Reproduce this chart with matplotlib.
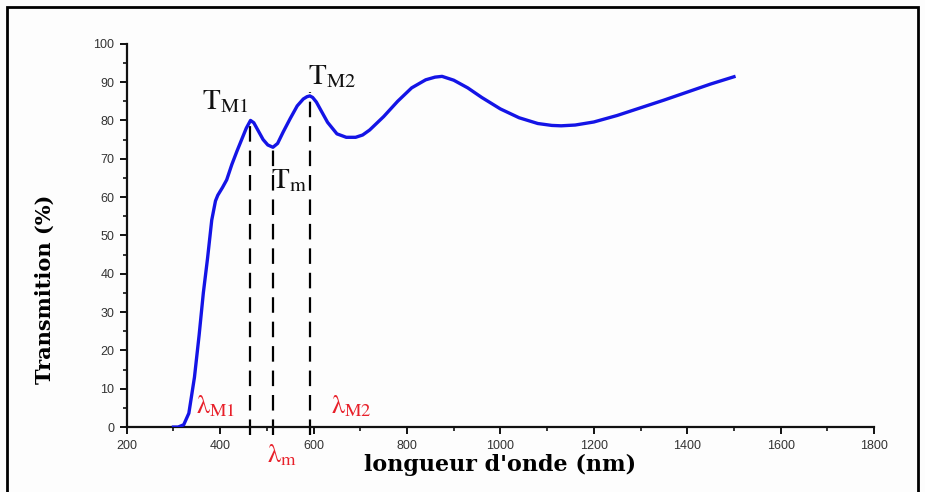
import matplotlib
matplotlib.use("Agg")
import matplotlib.pyplot as plt
from matplotlib.patches import Rectangle
from matplotlib.ticker import MultipleLocator

plt.rcParams['mathtext.fontset'] = 'stix'

# Data
wavelength = [300, 310, 322, 333, 345, 355, 364, 373, 382, 390, 395, 405, 414, 425,
              436, 446, 456, 465, 472, 482, 492, 502, 513, 523, 535, 550, 565, 578,
              586, 592, 598, 606, 615, 630, 650, 670, 690, 705, 720, 750, 780, 810, 840, 860,
              875, 900, 930, 960, 1000, 1040, 1080, 1110, 1130, 1160, 1200, 1250,
              1300, 1350, 1400, 1450, 1500]
transmission = [0, 0, 0.6, 3.6, 13, 24, 35, 44, 54, 59, 60.5, 62.5, 64.5, 68.5,
                72, 75, 78, 80, 79.4, 77.2, 75, 73.6, 73, 74, 77, 80.5, 83.8, 85.6,
                86.2, 86.4, 86.0, 84.8, 82.8, 79.5, 76.5, 75.6, 75.6, 76.2, 77.5, 81, 85, 88.5, 90.6, 91.3,
                91.5, 90.5, 88.5, 86, 83, 80.7, 79.2, 78.7, 78.6, 78.8, 79.6, 81.3,
                83.3, 85.3, 87.4, 89.5, 91.4]

marker_x = [463, 513, 592]
marker_top = [80, 73, 87.5]

t_labels = [r'$\mathrm{T}_{\mathrm{M1}}$', r'$\mathrm{T}_{\mathrm{m}}$', r'$\mathrm{T}_{\mathrm{M2}}$']
t_pos = [(410, 85), (547, 64.5), (639, 91.5)]
lam_labels = [r'$\mathrm{λ}_{\mathrm{M1}}$', r'$\mathrm{λ}_{\mathrm{m}}$', r'$\mathrm{λ}_{\mathrm{M2}}$']
lam_pos = [(391, 5.5), (532, -7.5), (682, 5.5)]

xticks = [200, 400, 600, 800, 1000, 1200, 1400, 1600, 1800]
yticks = [0, 10, 20, 30, 40, 50, 60, 70, 80, 90, 100]

fig = plt.figure(figsize=(9.25, 4.92), dpi=100)
fig.patch.set_facecolor('#fdfdfd')
ax = fig.add_axes([0.137, 0.132, 0.808, 0.779])
ax.set_facecolor('#fdfdfd')

ax.plot(wavelength, transmission, color='#1414e6', lw=2.4, zorder=3)

for x, top in zip(marker_x, marker_top):
    ax.plot([x, x], [-2, top], color='black', lw=1.6, ls=(0, (7, 4)), clip_on=False, zorder=2)

for lab, (x, y) in zip(t_labels, t_pos):
    ax.text(x, y, lab, fontsize=21, color='#111111', ha='center', va='center')
for lab, (x, y) in zip(lam_labels, lam_pos):
    ax.text(x, y, lab, fontsize=19, color='#e8202a', ha='center', va='center', clip_on=False)

ax.set_xlim(200, 1800)
ax.set_ylim(0, 100)
ax.set_xticks(xticks)
ax.set_yticks(yticks)
ax.xaxis.set_minor_locator(MultipleLocator(100))
ax.yaxis.set_minor_locator(MultipleLocator(5))
for s in ['top', 'right']:
    ax.spines[s].set_visible(False)
for s in ['left', 'bottom']:
    ax.spines[s].set_linewidth(1.6)
    ax.spines[s].set_color('#111111')
ax.tick_params(which='major', direction='out', length=5, width=1.4, color='#111111',
               labelsize=9, labelcolor='#333333', pad=4)
ax.tick_params(which='minor', direction='out', length=3, width=1.2, color='#111111')
for lbl in ax.get_xticklabels() + ax.get_yticklabels():
    lbl.set_family('Liberation Sans')

ax.set_xlabel("longueur d'onde (nm)", fontsize=16, fontweight='bold',
              family='DejaVu Serif', va='center')
ax.set_ylabel("Transmition (%)", fontsize=15, fontweight='bold',
              family='DejaVu Serif', va='center')
ax.xaxis.set_label_coords(0.5, -0.099)
ax.yaxis.set_label_coords(-0.11, 0.36)

fig.add_artist(Rectangle((7 / 925, -0.02), 911 / 925, 1 - 7 / 492 + 0.02,
                         transform=fig.transFigure, fill=False, edgecolor='black', lw=2))

fig.savefig('out.png', dpi=100, facecolor=fig.get_facecolor())
